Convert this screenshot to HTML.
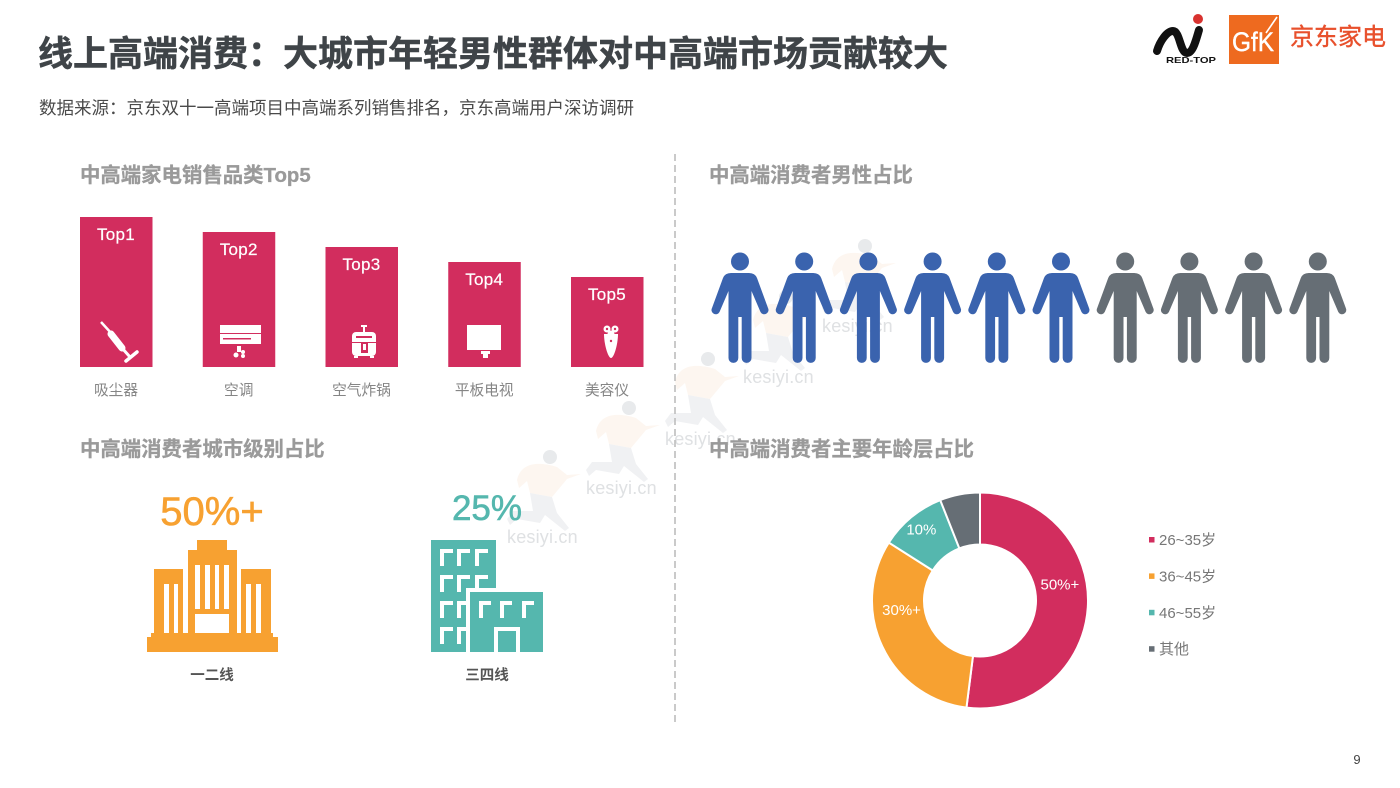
<!DOCTYPE html>
<html lang="zh">
<head>
<meta charset="utf-8">
<title>线上高端消费</title>
<style>
html,body{margin:0;padding:0;background:#fff;}
svg{display:block;}
text{font-family:"Liberation Sans","Noto Sans CJK SC",sans-serif;}
</style>
</head>
<body>
<svg id="page" xmlns="http://www.w3.org/2000/svg" width="1400" height="788" viewBox="0 0 1400 788">
<rect width="1400" height="788" fill="#fff"/>

<defs>
<g id="wm-figure">
<circle cx="43" cy="-86" r="7" fill="#e8eaec"/>
<path d="M10,-63 C14,-80 30,-82 50,-76 L60,-68 L74,-69 L60,-64 L45,-46 L23,-50 L20,-62 L12,-55Z" fill="#fdf6f0"/>
<path d="M23,-50 L45,-46 L50,-30 L62,-15 L58,-12 L38,-28 L33,-20 L10,-24 L3,-18 L0,-24 L6,-32 L26,-32Z" fill="#f0f1f3"/>
</g>
</defs>
<g>
<g transform="translate(507,543)"><use href="#wm-figure"/><text font-size="18" fill="#dfe1e3" letter-spacing="0.2">kesiyi.cn</text></g>
<g transform="translate(586,494)"><use href="#wm-figure"/><text font-size="18" fill="#dfe1e3" letter-spacing="0.2">kesiyi.cn</text></g>
<g transform="translate(665,445)"><use href="#wm-figure"/><text font-size="18" fill="#dfe1e3" letter-spacing="0.2">kesiyi.cn</text></g>
<g transform="translate(743,383)"><use href="#wm-figure"/><text font-size="18" fill="#dfe1e3" letter-spacing="0.2">kesiyi.cn</text></g>
<g transform="translate(822,332)"><use href="#wm-figure"/><text font-size="18" fill="#dfe1e3" letter-spacing="0.2">kesiyi.cn</text></g>
</g>

<text x="38" y="66" font-size="35" font-weight="700" fill="#3f4448" stroke="#3f4448" stroke-width="0.5">线上高端消费：大城市年轻男性群体对中高端市场贡献较大</text>
<text x="39" y="114" font-size="17.5" fill="#4a4a4a">数据来源：京东双十一高端项目中高端系列销售排名，京东高端用户深访调研</text>

<g>
<path d="M1157,51 C1160,41 1167,31 1173,31 C1180,31 1180,53 1187,53 C1193,53 1196,40 1199,30" fill="none" stroke="#111" stroke-width="8" stroke-linecap="round"/>
<circle cx="1198" cy="19" r="5" fill="#d8322f"/>
<text x="1166" y="63" font-size="8.5" font-weight="700" fill="#111" textLength="50" lengthAdjust="spacingAndGlyphs">RED-TOP</text>
</g>
<g>
<rect x="1229" y="15" width="50" height="49" fill="#ee6a1f"/>
<line x1="1277" y1="17" x2="1266" y2="33" stroke="#fff" stroke-width="1.6"/>
<text x="1232" y="51" font-size="27" fill="#fff" stroke="#fff" stroke-width="0.4" textLength="42" lengthAdjust="spacingAndGlyphs">GfK</text>
</g>
<text x="1290" y="45" font-size="24" fill="#e8502c" stroke="#e8502c" stroke-width="0.4">京东家电</text>

<line x1="675" y1="154" x2="675" y2="722" stroke="#bdbdbd" stroke-width="1.6" stroke-dasharray="7 4"/>

<text x="80" y="182" font-size="20.4" font-weight="700" fill="#9a9a9a" stroke="#9a9a9a" stroke-width="0.3">中高端家电销售品类Top5</text>
<text x="709" y="182" font-size="20.4" font-weight="700" fill="#9a9a9a" stroke="#9a9a9a" stroke-width="0.3">中高端消费者男性占比</text>
<text x="80" y="456" font-size="20.4" font-weight="700" fill="#9a9a9a" stroke="#9a9a9a" stroke-width="0.3">中高端消费者城市级别占比</text>
<text x="709" y="456" font-size="20.4" font-weight="700" fill="#9a9a9a" stroke="#9a9a9a" stroke-width="0.3">中高端消费者主要年龄层占比</text>

<g id="bars"></g>

<g fill="#fff">
<g>
<line x1="101" y1="322" x2="112" y2="334" stroke="#fff" stroke-width="2.5"/>
<line x1="111" y1="334" x2="122" y2="348" stroke="#fff" stroke-width="7" stroke-linecap="round"/>
<line x1="122" y1="348" x2="130" y2="357" stroke="#fff" stroke-width="3"/>
<line x1="126" y1="361" x2="137" y2="352" stroke="#fff" stroke-width="3.5" stroke-linecap="round"/>
</g>
<g>
<rect x="220" y="325" width="41" height="19"/>
<rect x="223" y="338" width="28" height="1.5" fill="#d22d5e"/>
<rect x="220" y="333" width="41" height="1" fill="#d22d5e"/>
<rect x="237" y="346" width="4" height="6"/>
<circle cx="236" cy="355" r="2.5"/><circle cx="243" cy="352" r="2"/><circle cx="243" cy="356" r="2"/>
</g>
<g>
<rect x="363" y="326" width="2" height="6"/><rect x="361" y="325" width="6" height="2"/>
<rect x="352" y="332" width="24" height="24" rx="4"/>
<rect x="354" y="356" width="4" height="2"/><rect x="370" y="356" width="4" height="2"/>
<rect x="352" y="342" width="24" height="1" fill="#d22d5e"/>
<rect x="361" y="342" width="7" height="11" fill="#d22d5e"/>
<rect x="363" y="344" width="3" height="6"/>
<rect x="356" y="336" width="16" height="2" fill="#d22d5e"/>
</g>
<g>
<rect x="467" y="325" width="34" height="25"/>
<rect x="481" y="351" width="9" height="3"/>
<rect x="483" y="353" width="5" height="5"/>
</g>
<g>
<path d="M604,334 L618,334 C618,344 614,358 611,358 C608,358 604,344 604,334Z"/>
<circle cx="607" cy="329" r="3.5"/><circle cx="615" cy="329" r="3.5"/><circle cx="611" cy="334" r="3.5"/>
<circle cx="607" cy="329" r="1.2" fill="#d22d5e"/><circle cx="615" cy="329" r="1.2" fill="#d22d5e"/>
<circle cx="611" cy="341" r="1.2" fill="#d22d5e"/>
</g>
</g>

<g id="people"></g>

<text x="212" y="525" font-size="40" fill="#f7a131" stroke="#f7a131" stroke-width="0.6" text-anchor="middle">50%+</text>
<g fill="#f7a131">
<rect x="147" y="637" width="131" height="15"/>
<rect x="151" y="633" width="122" height="4"/>
<rect x="154" y="569" width="29" height="64"/>
<rect x="188" y="550" width="49" height="83"/>
<rect x="197" y="540" width="30" height="10"/>
<rect x="241" y="569" width="30" height="64"/>
<g fill="#fff">
<rect x="164" y="584" width="5" height="49"/><rect x="174" y="584" width="4" height="49"/>
<rect x="195" y="565" width="5" height="44"/><rect x="205" y="565" width="5" height="44"/><rect x="215" y="565" width="4" height="44"/><rect x="224" y="565" width="5" height="44"/>
<rect x="195" y="614" width="34" height="19"/>
<rect x="246" y="584" width="5" height="49"/><rect x="256" y="584" width="5" height="49"/>
</g>
</g>
<text x="212" y="680" font-size="14.5" font-weight="700" fill="#555" text-anchor="middle">一二线</text>

<text x="487" y="520" font-size="35" fill="#55b7ae" stroke="#55b7ae" stroke-width="0.6" text-anchor="middle">25%</text>
<g>
<rect x="431" y="540" width="65" height="112" fill="#55b7ae"/>
<path d="M440,549h13v4h-9v13h-4z M457,549h13v4h-9v13h-4z M475,549h13v4h-9v13h-4z M440,575h13v4h-9v13h-4z M457,575h13v4h-9v13h-4z M475,575h13v4h-9v13h-4z M440,601h13v4h-9v13h-4z M457,601h13v4h-9v13h-4z M440,627h13v4h-9v13h-4z M457,627h13v4h-9v13h-4z" fill="#fff"/>
<rect x="466" y="588" width="78" height="64" fill="#fff"/>
<rect x="470" y="592" width="73" height="60" fill="#55b7ae"/>
<path d="M479,601h12v4h-8v13h-4z M500,601h12v4h-8v13h-4z M522,601h12v4h-8v13h-4z" fill="#fff"/>
<rect x="494" y="627" width="26" height="25" fill="#fff"/>
<rect x="498" y="631" width="18" height="21" fill="#55b7ae"/>
</g>
<text x="487" y="680" font-size="14.5" font-weight="700" fill="#555" text-anchor="middle">三四线</text>

<g id="donut"></g>
<g id="legend"></g>

<text x="1357" y="764" font-size="13" fill="#444" text-anchor="middle">9</text>
</svg>

<script>
var barCategories = ['吸尘器', '空调', '空气炸锅', '平板电视', '美容仪'];
var barRanks = ['Top1', 'Top2', 'Top3', 'Top4', 'Top5'];
var barValues = [100, 90, 80, 70, 60];
var maleCount = [6];
var peopleTotal = [10];
var ageLabels = ['26~35岁', '36~45岁', '46~55岁', '其他'];
var ageValues = [52, 32, 10, 6];
var ageValueLabels = ['50%+', '30%+', '10%', ''];
var ageColors = ['#d22d5e', '#f7a131', '#55b7ae', '#666e75'];

var NS = 'http://www.w3.org/2000/svg';
function mk(tag, parent, attrs, txt) {
  var el = document.createElementNS(NS, tag);
  for (var k in attrs) el.setAttribute(k, attrs[k]);
  if (txt !== undefined) el.textContent = txt;
  parent.appendChild(el);
  return el;
}

/* bar chart */
var barBase = 367;
function barX(i) { return 80 + i * 122.75; }
function barH(v) { return v * 1.5; }
var barsG = document.getElementById('bars');
barValues.forEach(function (v, i) {
  var h = barH(v), x = barX(i);
  var r = mk('rect', barsG, { x: x, y: barBase - h, width: 72.5, height: h, fill: '#d22d5e' });
  
  
  var t = mk('text', barsG, { x: x + 36, y: barBase - h + 23, 'font-size': 17, fill: '#fff', stroke: '#fff', 'stroke-width': 0.2, 'letter-spacing': '0.3', 'text-anchor': 'middle' }, barRanks[i]);
  
  
  var c = mk('text', barsG, { x: x + 36, y: 395, 'font-size': 14.7, fill: '#858585', 'text-anchor': 'middle' }, barCategories[i]);
  
  
});

/* pictogram */
var personPath = 'M-9,273 L9,273 Q15,273 17,278 L28,308 a4.2,4.2 0 0 1 -7.5,4 L11.5,291 L11.5,317 L11.5,358 a4.9,4.9 0 0 1 -9.8,0 L1.7,317 L-1.7,317 L-1.7,358 a4.9,4.9 0 0 1 -9.8,0 L-11.5,317 L-11.5,291 L-20.5,312 a4.2,4.2 0 0 1 -7.5,-4 L-17,278 Q-15,273 -9,273Z';
function personX(i) { return 740 + i * 64.2; }
var peopleG = document.getElementById('people');
for (var p = 0; p < peopleTotal[0]; p++) {
  var col = p < maleCount[0] ? '#3a63ae' : '#666e75';
  var g = mk('g', peopleG, { transform: 'translate(' + personX(p) + ',0)', fill: col });
  
  
  mk('circle', g, { cx: 0, cy: 261.5, r: 9 });
  mk('path', g, { d: personPath });
}

/* donut */
var cx = 980, cy = 600.5, rO = 108, rI = 56;
var ageTotal = ageValues.reduce(function (a, b) { return a + b; }, 0);
function angle(v) { return v / ageTotal * Math.PI * 2; }
function pt(r, a) { return [cx + r * Math.sin(a), cy - r * Math.cos(a)]; }
var donutG = document.getElementById('donut');
var cum = 0;
ageValues.forEach(function (v, i) {
  var a0 = angle(cum), a1 = angle(cum + v);
  var large = a1 - a0 > Math.PI ? 1 : 0;
  var p0 = pt(rO, a0), p1 = pt(rO, a1), p2 = pt(rI, a1), p3 = pt(rI, a0);
  var s = mk('path', donutG, {
    d: 'M' + p0 + ' A' + rO + ',' + rO + ' 0 ' + large + ' 1 ' + p1 + ' L' + p2 + ' A' + rI + ',' + rI + ' 0 ' + large + ' 0 ' + p3 + 'Z',
    fill: ageColors[i], stroke: '#fff', 'stroke-width': 2
  });
  
  
  cum += v;
});
/* value labels sit inside their slices */
function labelFraction(i) { return i === 0 ? 0.42 : i === 1 ? 0.66 : 0.5; }
function labelRadius(i) { return i === 0 ? 81.5 : i === 1 ? 79 : 92; }
cum = 0;
ageValues.forEach(function (v, i) {
  if (ageValueLabels[i]) {
    var q = pt(labelRadius(i), angle(cum + v * labelFraction(i)));
    var t = mk('text', donutG, { x: q[0], y: q[1] + 5, 'font-size': 15, fill: '#fff', 'text-anchor': 'middle' }, ageValueLabels[i]);
    
    
  }
  cum += v;
});

/* legend */
var legendG = document.getElementById('legend');
ageLabels.forEach(function (l, i) {
  var y = 540 + i * 36.4;
  var m = mk('rect', legendG, { x: 1149, y: y - 3, width: 5.5, height: 5.5, fill: ageColors[i] });
  
  
  var t = mk('text', legendG, { x: 1159, y: y + 5, 'font-size': 15, fill: '#777' }, l);
  
  
});
</script>
</body>
</html>
